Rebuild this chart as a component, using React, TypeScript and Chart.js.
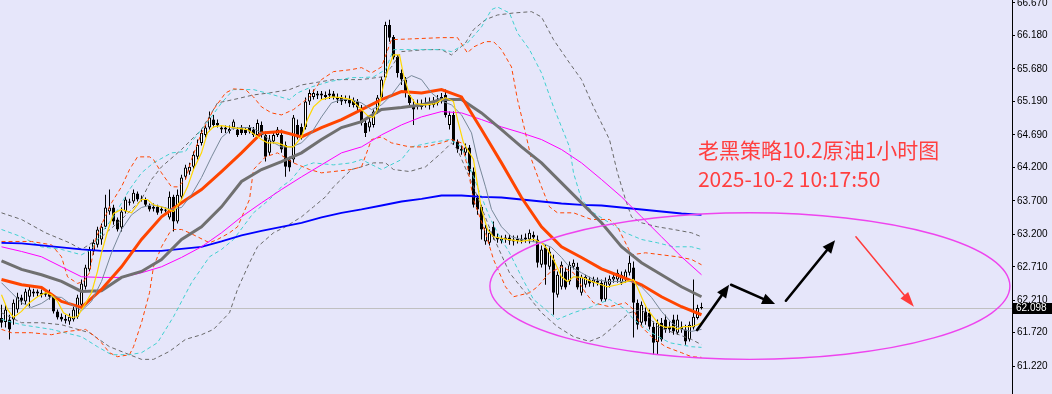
import React, { useEffect, useRef } from 'react';
import { Chart, registerables } from 'chart.js';

Chart.register(...registerables);

// ---------------- Data ----------------
const OPEN = [
  61.94, 61.88, 61.92, 61.92, 62.07, 62.25, 62.19, 62.26, 62.34, 62.31,
  62.32, 62.29, 62.32, 62.26, 62.04, 61.96, 61.93, 61.89, 61.92, 61.96,
  62.14, 62.41, 62.67, 62.94, 63.04, 63.12, 63.31, 63.54, 63.60, 63.42,
  63.30, 63.54, 63.69, 63.69, 63.81, 63.73, 63.72, 63.63, 63.61, 63.61,
  63.58, 63.57, 63.45, 63.76, 63.39, 63.76, 64.06, 64.14, 64.21, 64.36,
  64.57, 64.69, 64.80, 64.92, 64.87, 64.80, 64.77, 64.78, 64.80, 64.77,
  64.80, 64.77, 64.80, 64.77, 64.69, 64.84, 64.69, 64.42, 64.59, 64.69,
  64.69, 64.54, 64.32, 64.32, 64.84, 64.81, 64.81, 65.19, 65.26, 65.31,
  65.28, 65.29, 65.28, 65.31, 65.26, 65.25, 65.20, 65.22, 65.20, 65.19,
  65.10, 64.87, 64.80, 64.84, 65.04, 65.25, 65.55, 66.34, 66.16, 65.86,
  65.62, 65.52, 65.29, 65.11, 65.13, 65.16, 65.14, 65.16, 65.14, 65.17,
  65.22, 65.29, 64.84, 64.99, 64.59, 64.48, 64.42, 64.50, 64.14, 63.75,
  63.61, 63.09, 63.07, 63.31, 63.16, 63.13, 63.12, 63.15, 63.12, 63.10,
  63.13, 63.12, 63.12, 63.19, 63.12, 62.74, 63.00, 62.71, 62.82, 62.29,
  62.41, 62.64, 62.49, 62.71, 62.71, 62.32, 62.44, 62.52, 62.47, 62.50,
  62.47, 62.22, 62.44, 62.52, 62.52, 62.47, 62.52, 62.62, 62.70, 62.17,
  61.87, 62.04, 62.02, 61.81, 61.58, 61.87, 61.92, 61.81, 61.92, 61.72,
  61.81, 61.77, 61.62, 61.80, 61.94, 62.09,
];
const HIGH = [
  62.14, 62.14, 61.99, 62.22, 62.32, 62.29, 62.38, 62.41, 62.38, 62.37,
  62.37, 62.37, 62.37, 62.29, 62.07, 62.01, 61.99, 62.01, 62.11, 62.29,
  62.52, 62.74, 63.01, 63.12, 63.31, 63.36, 63.79, 63.87, 63.64, 63.45,
  63.60, 63.76, 63.73, 63.87, 63.84, 63.78, 63.75, 63.66, 63.66, 63.64,
  63.61, 63.60, 63.84, 63.79, 63.87, 64.09, 64.24, 64.27, 64.44, 64.62,
  64.77, 64.84, 65.04, 64.99, 64.92, 64.84, 64.83, 64.83, 64.92, 64.81,
  64.84, 64.81, 64.84, 64.81, 64.92, 64.89, 64.74, 64.69, 64.74, 64.81,
  64.77, 64.59, 64.36, 64.99, 64.92, 64.86, 65.25, 65.37, 65.37, 65.35,
  65.35, 65.34, 65.37, 65.35, 65.31, 65.29, 65.28, 65.28, 65.25, 65.23,
  65.14, 64.92, 64.99, 65.07, 65.29, 65.56, 66.39, 66.42, 66.19, 65.89,
  65.67, 65.56, 65.34, 65.22, 65.22, 65.22, 65.25, 65.25, 65.26, 65.29,
  65.32, 65.37, 65.04, 65.04, 64.62, 64.53, 64.56, 64.54, 64.20, 63.79,
  63.64, 63.34, 63.27, 63.39, 63.21, 63.18, 63.19, 63.19, 63.18, 63.18,
  63.19, 63.21, 63.27, 63.24, 63.18, 63.03, 63.04, 63.00, 62.89, 62.64,
  62.79, 62.70, 62.79, 62.82, 62.77, 62.59, 62.59, 62.56, 62.56, 62.55,
  62.52, 62.55, 62.58, 62.61, 62.67, 62.64, 62.67, 62.88, 62.79, 62.22,
  62.19, 62.10, 62.07, 61.89, 61.92, 61.94, 61.99, 61.89, 61.99, 61.99,
  61.89, 61.84, 61.89, 62.52, 62.14, 62.17,
];
const LOW = [
  61.80, 61.80, 61.62, 61.84, 62.02, 62.14, 62.14, 62.10, 62.26, 62.26,
  62.25, 62.26, 62.22, 62.01, 61.92, 61.89, 61.86, 61.84, 61.89, 61.93,
  62.10, 62.37, 62.64, 62.89, 63.00, 63.04, 63.28, 63.49, 63.34, 63.24,
  63.24, 63.51, 63.63, 63.66, 63.69, 63.69, 63.61, 63.54, 63.54, 63.49,
  63.51, 63.52, 63.42, 63.24, 63.36, 63.72, 64.02, 64.09, 64.17, 64.32,
  64.53, 64.65, 64.77, 64.80, 64.80, 64.72, 64.72, 64.71, 64.77, 64.66,
  64.69, 64.69, 64.71, 64.66, 64.65, 64.65, 64.29, 64.38, 64.56, 64.66,
  64.42, 64.06, 64.14, 64.27, 64.62, 64.62, 64.77, 65.14, 65.22, 65.23,
  65.23, 65.22, 65.23, 65.22, 65.17, 65.14, 65.16, 65.11, 65.10, 65.05,
  64.83, 64.66, 64.74, 64.80, 65.01, 65.22, 65.52, 66.09, 65.82, 65.55,
  65.44, 65.25, 65.13, 64.84, 65.07, 65.07, 65.10, 65.07, 65.10, 65.13,
  65.16, 64.95, 64.77, 64.54, 64.42, 64.39, 64.38, 64.09, 63.60, 63.49,
  63.12, 63.04, 63.03, 63.12, 63.07, 63.06, 63.07, 63.04, 63.03, 63.06,
  63.06, 63.07, 63.06, 63.09, 62.70, 62.70, 62.44, 62.67, 61.99, 62.25,
  62.37, 62.37, 62.44, 62.67, 62.37, 62.28, 62.40, 62.41, 62.41, 62.43,
  62.19, 62.19, 62.40, 62.47, 62.47, 62.44, 62.47, 62.58, 61.65, 61.77,
  61.83, 61.84, 61.77, 61.39, 61.39, 61.59, 61.72, 61.72, 61.69, 61.69,
  61.72, 61.54, 61.59, 61.77, 61.92, 62.07,
];
const CLOSE = [
  61.87, 62.07, 61.77, 62.17, 62.26, 62.20, 62.34, 62.37, 62.31, 62.34,
  62.29, 62.32, 62.26, 62.04, 61.95, 61.92, 61.90, 61.96, 62.07, 62.25,
  62.46, 62.70, 62.97, 63.07, 63.27, 63.31, 63.60, 63.60, 63.39, 63.27,
  63.54, 63.72, 63.67, 63.82, 63.72, 63.72, 63.64, 63.57, 63.58, 63.52,
  63.55, 63.55, 63.76, 63.39, 63.79, 64.05, 64.20, 64.21, 64.39, 64.54,
  64.72, 64.80, 64.95, 64.84, 64.83, 64.77, 64.80, 64.75, 64.89, 64.69,
  64.72, 64.72, 64.74, 64.69, 64.87, 64.69, 64.36, 64.62, 64.69, 64.77,
  64.47, 64.21, 64.20, 64.95, 64.65, 64.66, 65.19, 65.32, 65.32, 65.28,
  65.31, 65.26, 65.31, 65.26, 65.22, 65.19, 65.23, 65.16, 65.14, 65.10,
  64.87, 64.72, 64.89, 65.04, 65.25, 65.52, 66.34, 66.15, 65.85, 65.62,
  65.52, 65.32, 65.17, 65.07, 65.16, 65.11, 65.17, 65.13, 65.19, 65.22,
  65.26, 64.99, 64.99, 64.59, 64.47, 64.45, 64.50, 64.14, 63.64, 63.57,
  63.27, 63.30, 63.22, 63.16, 63.12, 63.10, 63.15, 63.10, 63.09, 63.13,
  63.10, 63.15, 63.22, 63.15, 62.77, 62.97, 62.74, 62.94, 62.32, 62.59,
  62.74, 62.40, 62.74, 62.77, 62.40, 62.56, 62.56, 62.46, 62.52, 62.47,
  62.22, 62.49, 62.53, 62.56, 62.62, 62.59, 62.64, 62.77, 62.17, 61.84,
  62.14, 61.89, 61.81, 61.57, 61.87, 61.62, 61.77, 61.77, 61.74, 61.92,
  61.77, 61.59, 61.84, 61.96, 62.09, 62.10,
];

const CURRENT_PRICE = 62.098;
const PRICE_TICKS = [66.67, 66.18, 65.68, 65.19, 64.69, 64.2, 63.7, 63.2, 62.71, 62.21, 61.72, 61.22];

// moving averages sampled every 5 bars
const MA_X = [0, 5, 10, 15, 20, 25, 30, 35, 40, 45, 50, 55, 60, 65, 70, 75, 80, 85, 90, 95, 100, 105, 110, 115, 120, 125, 130, 135, 140, 145, 150, 155, 160, 165, 170, 175];
const MA_ORANGE = [62.52, 62.44, 62.40, 62.19, 62.10, 62.37, 62.71, 63.12, 63.46, 63.67, 63.87, 64.14, 64.42, 64.72, 64.74, 64.66, 64.80, 64.92, 65.07, 65.22, 65.34, 65.32, 65.37, 65.26, 64.77, 64.27, 63.75, 63.31, 63.01, 62.85, 62.68, 62.56, 62.44, 62.26, 62.11, 61.99];
const MA_GRAY = [62.80, 62.67, 62.59, 62.49, 62.34, 62.35, 62.55, 62.64, 62.82, 63.12, 63.31, 63.61, 63.99, 64.17, 64.29, 64.42, 64.62, 64.80, 64.89, 65.07, 65.10, 65.14, 65.22, 65.22, 65.02, 64.77, 64.51, 64.27, 63.97, 63.67, 63.37, 63.01, 62.77, 62.59, 62.41, 62.26];
const MA_MAGENTA = [63.01, 62.94, 62.86, 62.71, 62.56, 62.55, 62.55, 62.62, 62.71, 62.85, 63.01, 63.22, 63.46, 63.67, 63.87, 64.06, 64.24, 64.42, 64.51, 64.69, 64.84, 64.96, 65.04, 65.02, 64.92, 64.81, 64.72, 64.62, 64.47, 64.27, 64.02, 63.76, 63.46, 63.16, 62.86, 62.59];
const MA_BLUE = [63.07, 63.06, 63.03, 63.00, 62.97, 62.95, 62.95, 62.95, 62.95, 62.98, 63.01, 63.09, 63.18, 63.25, 63.31, 63.37, 63.45, 63.52, 63.57, 63.63, 63.69, 63.73, 63.78, 63.78, 63.76, 63.75, 63.72, 63.69, 63.66, 63.64, 63.63, 63.60, 63.57, 63.54, 63.51, 63.49];

// fast averages as [bar, price]
const MA_YELLOW = [[0,62.29],[1.5,62.07],[3,61.95],[5,62.04],[7,62.17],[9,62.26],[11,62.32],[12.5,62.29],[14,62.19],[15.5,62.02],[17.5,61.95],[19,61.96],[20.5,62.11],[22.5,62.32],[24,62.64],[25,62.92],[26.5,63.24],[28,63.51],[30,63.57],[32.5,63.52],[35,63.72],[36.5,63.72],[38,63.64],[40.5,63.60],[43,63.54],[45,63.72],[46.5,63.91],[48,64.17],[50,64.42],[51.5,64.72],[53,64.81],[55,64.83],[58,64.80],[61.5,64.77],[65,64.62],[66.5,64.57],[69,64.57],[71.5,64.51],[73,64.51],[75,64.66],[76.5,64.92],[78,65.11],[80,65.22],[82.5,65.26],[85,65.25],[87.5,65.22],[90,65.07],[91.5,64.98],[93,64.95],[94.5,65.14],[95.5,65.44],[97,65.74],[98,65.89],[99.5,65.89],[100.5,65.59],[102,65.29],[103.5,65.16],[106,65.14],[108.5,65.16],[111,65.25],[113,65.19],[114,64.92],[115.5,64.57],[116.5,64.47],[118,64.32],[119,63.94],[120,63.57],[121.5,63.27],[123,63.16],[126.5,63.12],[130,63.09],[133,63.12],[135,63.07],[136.5,62.97],[138,62.82],[140,62.56],[141.5,62.49],[143,62.56],[145,62.55],[147.5,62.49],[150,62.44],[151.5,62.41],[154,62.44],[156.5,62.49],[158,62.52],[159,62.40],[160.5,62.19],[161.5,62.07],[163,61.95],[164.5,61.84],[166,61.80],[168,61.81],[169,61.77],[170.5,61.81],[172.5,61.81],[174,61.84],[175,61.87]];
const MA_SLATE = [[0,62.47],[2.5,62.32],[5,62.17],[7.5,62.10],[10,62.16],[12.5,62.26],[15,62.25],[17.5,62.14],[20,62.05],[22.5,62.19],[25,62.49],[27.5,62.92],[30,63.27],[32.5,63.49],[35,63.60],[37.5,63.64],[40,63.61],[42.5,63.57],[45,63.60],[47.5,63.79],[50,64.05],[52.5,64.36],[55,64.65],[57.5,64.78],[60,64.80],[62.5,64.80],[65,64.72],[67.5,64.59],[70,64.51],[72.5,64.51],[75,64.57],[77.5,64.72],[80,64.96],[82.5,65.17],[85,65.22],[87.5,65.22],[90,65.17],[92.5,65.07],[95,65.14],[97.5,65.29],[100,65.49],[102.5,65.58],[105,65.52],[107.5,65.32],[110,65.20],[112.5,65.14],[115,64.99],[117.5,64.72],[119,64.32],[121,63.91],[122.5,63.57],[125,63.31],[127.5,63.16],[130,63.12],[132.5,63.09],[135,63.07],[137.5,63.00],[140,62.85],[141.5,62.74],[145,62.62],[148,62.52],[151.5,62.49],[155,62.49],[157.5,62.49],[160,62.41],[162.5,62.25],[165,62.04],[167.5,61.87],[170,61.77],[172.5,61.74],[175,61.77]];

// envelope bands as [bar, price]
const BAND_RED_UP = [[0,63.09],[7.5,63.09],[12.5,63.04],[15,62.86],[16.5,62.56],[19,62.46],[20.5,62.49],[22,62.62],[23.5,63.12],[25,63.34],[27.5,63.67],[30,63.91],[32,64.17],[34,64.36],[37,64.36],[38,64.32],[40,64.12],[42.5,63.91],[44,63.91],[46,64.02],[47.5,64.32],[50,64.72],[53,65.07],[56,65.32],[58,65.38],[61,65.37],[63,65.26],[65,65.11],[67.5,65.02],[70,64.99],[73,65.07],[77,65.26],[80,65.52],[83,65.64],[87.5,65.67],[90,65.70],[92.5,65.62],[95,65.71],[97.5,66.12],[102,66.13],[110,66.15],[114,66.15],[116.5,65.92],[118,66.01],[121,66.09],[123,66.09],[125,65.97],[127.5,65.71],[129,65.22],[131,64.72],[132.5,64.32],[135,63.91],[137,63.61],[139,63.52],[143,63.52],[147.5,63.42],[152,63.42],[154,63.31],[157.5,62.89],[161,62.92],[165,62.89],[169,62.86],[172.5,62.82],[175,62.74]];
const BAND_RED_LOW = [[0,61.77],[2.5,61.72],[7.5,61.72],[12.5,61.69],[16.5,61.74],[21,61.77],[23.5,61.66],[25,61.57],[27,61.42],[29,61.36],[32,61.39],[33,61.51],[35,61.87],[37,62.32],[38,62.71],[40,63.01],[42,63.22],[43,63.27],[45,63.27],[47,63.22],[49,63.16],[52,63.07],[54,63.12],[57,63.22],[59,63.31],[62,63.72],[63,64.17],[66,64.36],[69,64.42],[73,64.27],[77,64.17],[80,64.12],[83,64.14],[87.5,64.17],[90,64.21],[92.5,64.62],[95,64.66],[97.5,64.57],[102,64.51],[106,64.51],[110,64.57],[112.5,64.62],[115,64.57],[116.5,64.21],[118,63.72],[121,63.22],[123,62.82],[126,62.41],[128,62.26],[132,62.32],[134,62.41],[137,62.62],[140,62.71],[143,62.62],[146,62.32],[148,62.17],[152,62.11],[156,62.17],[158,62.07],[160,61.81],[162.5,61.66],[166,61.51],[170,61.42],[172.5,61.36],[175,61.35]];
const BAND_CYAN_UP = [[0,63.27],[5,63.16],[10,63.01],[15,62.97],[20,62.89],[22.5,62.97],[25,63.22],[28,63.46],[32,63.87],[35,64.12],[38,64.27],[42.5,64.42],[46,64.44],[48,64.62],[52,64.92],[55,65.17],[58,65.37],[63,65.37],[68,65.29],[72,65.22],[74,65.32],[77.5,65.41],[82,65.49],[87.5,65.55],[90,65.55],[93,65.56],[96,65.67],[98,65.97],[102,65.97],[110,65.97],[112.5,65.94],[116.5,66.07],[120,66.31],[122.5,66.57],[124,66.61],[127,66.52],[129,66.22],[132,65.97],[135,65.62],[138,65.11],[142,64.51],[143,64.12],[145,63.72],[148,63.52],[152,63.37],[156,63.22],[160,63.12],[164,63.07],[168,63.01],[172.5,63.01],[175,62.97]];
const BAND_CYAN_LOW = [[0,61.92],[5,61.84],[12.5,61.77],[20,61.66],[24,61.51],[27.5,61.39],[32,61.39],[35,61.42],[39,61.57],[43,61.96],[47.5,62.47],[52,62.86],[55,62.97],[58,63.12],[63,63.52],[67,63.72],[70,63.91],[72.5,64.02],[75,64.21],[78,64.27],[83,64.24],[87.5,64.27],[90,64.32],[95,64.17],[100,64.32],[102.5,64.51],[107,64.57],[112,64.62],[115,64.51],[118,64.06],[122,63.46],[124,63.22],[127,62.92],[130,62.56],[133,62.22],[137,62.02],[139,61.92],[143,62.02],[147.5,62.11],[152,62.22],[156,62.07],[158,61.92],[162.5,61.72],[167,61.57],[172.5,61.51],[175,61.50]];
const BAND_GRAY_UP = [[0,63.52],[5,63.42],[11,63.22],[17,63.07],[20,62.97],[25,63.16],[30,63.42],[35,63.72],[37.5,64.02],[40,64.21],[45,64.47],[50,64.77],[54,65.17],[58,65.22],[63,65.29],[67,65.32],[72,65.37],[75,65.44],[80,65.49],[83,65.52],[87.5,65.52],[90,65.52],[95,65.56],[97.5,65.71],[100,65.94],[106,65.97],[110,65.97],[112.5,65.89],[116,66.07],[118,66.27],[121,66.42],[124,66.49],[128,66.52],[132.5,66.54],[135,66.46],[138,66.12],[142,65.77],[145,65.52],[148,65.11],[152,64.62],[154,64.12],[156,63.72],[157.5,63.46],[160,63.37],[164,63.31],[168,63.27],[172.5,63.22],[175,63.16]];
const BAND_GRAY_LOW = [[0,62.02],[5,61.87],[10,61.87],[15,61.84],[22,61.72],[27,61.51],[32,61.39],[35,61.32],[38,61.32],[42,61.44],[46,61.62],[50,61.69],[53,61.77],[57,62.02],[59,62.37],[62,62.77],[64,63.01],[68,63.22],[71,63.31],[75,63.46],[78,63.61],[81,63.76],[83,63.91],[87.5,64.17],[90,64.21],[93,64.27],[96,64.27],[98,64.17],[102,64.14],[106,64.21],[110,64.42],[112.5,64.57],[114,64.47],[118,63.91],[122.5,63.22],[127,62.62],[131,62.32],[135,62.02],[139,61.81],[143,61.66],[147,61.59],[150,61.66],[153,61.81],[157,62.02],[160,62.07],[164,61.81],[168,61.72],[172.5,61.62],[175,61.54]];

// hand-drawn annotations, in chart coordinates (bar, price)
const ELLIPSE = { cx: 187.1, cy: 62.42, rx: 65, ry: 1.1 };
const BLACK_ARROWS = [
  [173.9, 61.76, 181.9, 62.44],
  [182.4, 62.44, 193.4, 62.15],
  [196.1, 62.2, 208.4, 63.11],
];
const RED_ARROW = [213.6, 63.16, 228.1, 62.11];
const TITLE_LINES = ['老黑策略10.2原油1小时图', '2025-10-2 10:17:50'];
const TITLE_POS = [[174.1, 64.46], [174.1, 64.03]];

// ---------------- Chart ----------------
type Pair = number[];

function drawArrow(ctx: CanvasRenderingContext2D, x1: number, y1: number, x2: number, y2: number, color: string, lw: number, headLen: number, headHalf: number) {
  const ang = Math.atan2(y2 - y1, x2 - x1);
  const bx = x2 - Math.cos(ang) * headLen;
  const by = y2 - Math.sin(ang) * headLen;
  ctx.save();
  ctx.strokeStyle = color;
  ctx.fillStyle = color;
  ctx.lineWidth = lw;
  ctx.lineCap = 'round';
  ctx.beginPath();
  ctx.moveTo(x1, y1);
  ctx.lineTo(bx, by);
  ctx.stroke();
  ctx.beginPath();
  ctx.moveTo(x2, y2);
  ctx.lineTo(bx + Math.sin(ang) * headHalf, by - Math.cos(ang) * headHalf);
  ctx.lineTo(bx - Math.sin(ang) * headHalf, by + Math.cos(ang) * headHalf);
  ctx.closePath();
  ctx.fill();
  ctx.restore();
}

const overlayPlugin = {
  id: 'overlay',
  beforeDatasetsDraw(chart: any) {
    const { ctx, chartArea, scales } = chart;
    const y = Math.round(scales.y.getPixelForValue(CURRENT_PRICE)) + 0.5;
    ctx.save();
    ctx.strokeStyle = '#c0c0c0';
    ctx.lineWidth = 1;
    ctx.beginPath();
    ctx.moveTo(chartArea.left, y);
    ctx.lineTo(chartArea.right, y);
    ctx.stroke();
    ctx.restore();
  },
  afterDatasetsDraw(chart: any) {
    const { ctx, scales } = chart;
    const xs = scales.x;
    const ys = scales.y;
    const px = (v: number) => xs.getPixelForValue(v);
    const py = (v: number) => ys.getPixelForValue(v);
    ctx.save();
    // ellipse
    const cx = px(ELLIPSE.cx);
    const cy = py(ELLIPSE.cy);
    const rx = Math.abs(px(ELLIPSE.cx + ELLIPSE.rx) - cx);
    const ry = Math.abs(py(ELLIPSE.cy + ELLIPSE.ry) - cy);
    ctx.strokeStyle = '#ee44ee';
    ctx.lineWidth = 1.4;
    ctx.beginPath();
    ctx.ellipse(cx, cy, rx, ry, 0, 0, Math.PI * 2);
    ctx.stroke();
    // arrows
    BLACK_ARROWS.forEach((a) => drawArrow(ctx, px(a[0]), py(a[1]), px(a[2]), py(a[3]), '#000000', 2.6, 13, 5.5));
    drawArrow(ctx, px(RED_ARROW[0]), py(RED_ARROW[1]), px(RED_ARROW[2]), py(RED_ARROW[3]), '#ff3b3b', 1.5, 15, 5);
    // title text
    ctx.fillStyle = '#ff3f3f';
    ctx.font = '21px "Noto Sans CJK SC", sans-serif';
    ctx.textBaseline = 'middle';
    ctx.textAlign = 'left';
    TITLE_LINES.forEach((t, i) => ctx.fillText(t, px(TITLE_POS[i][0]), py(TITLE_POS[i][1])));
    ctx.restore();
  },
  afterDraw(chart: any) {
    const { ctx, chartArea, scales } = chart;
    const y = Math.round(scales.y.getPixelForValue(CURRENT_PRICE));
    ctx.save();
    ctx.fillStyle = '#000000';
    ctx.fillRect(chartArea.right + 1, y - 5, 40, 11);
    ctx.fillStyle = '#ffffff';
    ctx.font = '10px "Liberation Sans", Arial, sans-serif';
    ctx.textBaseline = 'middle';
    ctx.textAlign = 'left';
    ctx.fillText(CURRENT_PRICE.toFixed(3), chartArea.right + 4, y + 0.5);
    ctx.restore();
  },
};

function lineDs(points: Pair[], color: string, width: number, order: number, dash: number[] = []) {
  return {
    type: 'line' as const,
    data: points.map((p) => ({ x: p[0], y: p[1] })),
    borderColor: color,
    borderWidth: width,
    borderDash: dash,
    pointRadius: 0,
    fill: false,
    tension: 0,
    order,
  };
}

export default function App() {
  const ref = useRef<HTMLCanvasElement>(null);

  useEffect(() => {
    if (!ref.current) return;
    const bars = CLOSE.map((_, i) => i);
    const wicks = bars.map((i) => ({ x: i, y: [LOW[i], HIGH[i]] }));
    const bodies = bars.map((i) => ({ x: i, y: [OPEN[i], CLOSE[i]] }));
    const bodyFill = bars.map((i) => (CLOSE[i] >= OPEN[i] ? '#ffffff' : '#000000'));
    const maPts = (vals: number[]) => MA_X.map((x, i) => [x, vals[i]]);

    const chart = new Chart(ref.current, {
      type: 'bar',
      data: {
        datasets: [
          {
            type: 'bar',
            data: wicks as any,
            backgroundColor: '#000000',
            borderWidth: 0,
            barThickness: 1,
            grouped: false,
            inflateAmount: 0,
            order: 20,
          } as any,
          {
            type: 'bar',
            data: bodies as any,
            backgroundColor: bodyFill,
            borderColor: '#000000',
            borderWidth: 1,
            borderSkipped: false,
            barThickness: 3,
            minBarLength: 1,
            grouped: false,
            inflateAmount: 0,
            order: 19,
          } as any,
          lineDs(BAND_RED_UP, '#ff4500', 1, 12, [4, 3]),
          lineDs(BAND_RED_LOW, '#ff4500', 1, 12, [4, 3]),
          lineDs(BAND_CYAN_UP, '#40d0d0', 1, 12, [4, 3]),
          lineDs(BAND_CYAN_LOW, '#40d0d0', 1, 12, [4, 3]),
          lineDs(BAND_GRAY_UP, '#696969', 1, 12, [4, 3]),
          lineDs(BAND_GRAY_LOW, '#696969', 1, 12, [4, 3]),
          lineDs(maPts(MA_BLUE), '#0000ff', 1.8, 8),
          lineDs(maPts(MA_MAGENTA), '#ff00ff', 1, 7),
          lineDs(maPts(MA_GRAY), '#707070', 3, 6),
          lineDs(maPts(MA_ORANGE), '#ff4500', 3, 5),
          lineDs(MA_SLATE, '#778899', 1, 4),
          lineDs(MA_YELLOW, '#ffd700', 1.2, 3),
        ] as any,
      },
      options: {
        animation: false,
        responsive: false,
        devicePixelRatio: 1,
        events: [],
        layout: { padding: 0 },
        plugins: { legend: { display: false }, tooltip: { enabled: false } },
        scales: {
          x: {
            type: 'linear',
            display: false,
            min: -0.375,
            max: 252.625,
            offset: false,
          },
          y: {
            type: 'linear',
            position: 'right',
            min: 60.8,
            max: 66.715,
            beginAtZero: false,
            grid: { drawOnChartArea: false, drawTicks: true, tickLength: 3, color: '#000000' },
            border: { display: true, color: '#000000', width: 1 },
            ticks: {
              autoSkip: false,
              padding: 2,
              color: '#000000',
              font: { family: '"Liberation Sans", Arial, sans-serif', size: 10 },
              callback: (v: any) => Number(v).toFixed(3),
            },
            afterBuildTicks: (scale: any) => {
              scale.ticks = PRICE_TICKS.map((v) => ({ value: v }));
            },
            afterFit: (scale: any) => {
              scale.width = 40;
              scale.paddingTop = 0;
              scale.paddingBottom = 0;
            },
          },
        },
      } as any,
      plugins: [overlayPlugin],
    });
    return () => chart.destroy();
  }, []);

  return (
    <div style={{ position: 'fixed', left: 0, top: 0, width: 1052, height: 394, background: '#e6e6fa' }}>
      <canvas ref={ref} width={1052} height={394} style={{ display: 'block', width: 1052, height: 394 }} />
    </div>
  );
}
